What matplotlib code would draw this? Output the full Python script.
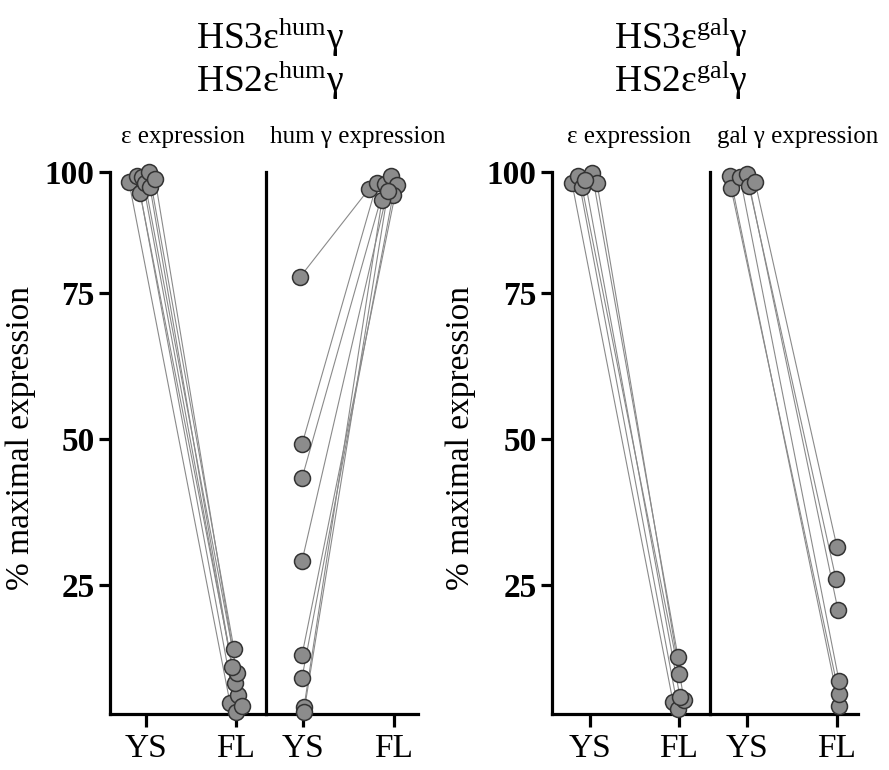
import numpy as np
import matplotlib
matplotlib.use("Agg")
import matplotlib.pyplot as plt

plt.rcParams['font.family'] = ['Liberation Serif', 'DejaVu Serif']
plt.rcParams['mathtext.fontset'] = 'custom'
plt.rcParams['mathtext.rm'] = 'Liberation Serif'
plt.rcParams['mathtext.it'] = 'Liberation Serif:italic'

# 1. Datos
categorias = ["YS", "FL"]
ticks_y = [25, 50, 75, 100]

# HS3/HS2 eps-hum-gamma: expresion de epsilon
eps_hum_ys = [97.9, 99.2, 95.7, 99.0, 97.7, 100.0, 96.9, 98.6]
eps_hum_fl = [4.8, 3.3, 6.2, 8.2, 9.9, 14.0, 11.0, 4.3]
eps_hum_dx_ys = [-17, -9, -6, -4, -1, 3, 4, 9]
eps_hum_dx_fl = [-6, 0, 2, -1, 1, -2, -4, 6]

# HS3/HS2 eps-hum-gamma: expresion de gamma humano
gam_hum_ys = [78.3, 49.1, 43.3, 29.1, 13.0, 9.1, 4.1, 3.3]
gam_hum_fl = [96.5, 97.7, 97.5, 99.2, 97.3, 95.2, 94.2, 96.0]
gam_hum_dx_ys = [-3, -1, -1, -1, -1, -1, 1, 1]
gam_hum_dx_fl = [-25, -17, -9, -3, 3, -1, -12, -6]

# HS3/HS2 eps-gal-gamma: expresion de epsilon
eps_gal_ys = [97.7, 99.2, 96.9, 99.8, 97.7, 98.3]
eps_gal_fl = [5.0, 3.8, 9.8, 12.7, 5.3, 5.8]
eps_gal_dx_ys = [-18, -12, -8, 2, 7, -5]
eps_gal_dx_fl = [-6, -1, 0, -1, 5, 1]

# HS3/HS2 eps-gal-gamma: expresion de gamma galago
gam_gal_ys = [99.2, 96.7, 99.0, 99.6, 97.1, 98.0]
gam_gal_fl = [4.3, 6.3, 8.6, 20.7, 26.0, 31.5]
gam_gal_dx_ys = [-17, -16, -7, 0, 2, 8]
gam_gal_dx_fl = [2, 2, 2, 1, -1, 0]


# 2. Escala del eje y (el tramo 75-100 esta mas comprimido en el original)
def comprimir(v):
    v = np.asarray(v, dtype=float)
    return np.where(v <= 75, v, 75 + (v - 75) * 0.83)


def expandir(u):
    u = np.asarray(u, dtype=float)
    return np.where(u <= 75, u, 75 + (u - 75) / 0.83)


fig = plt.figure(figsize=(8.89, 7.70), dpi=100)
W, H = 889.0, 770.0
y_abajo, y_arriba = 714, 172


def rect(x0, x1):
    return [x0 / W, (H - y_abajo) / H, (x1 - x0) / W, (y_abajo - y_arriba) / H]


# (rect, YS, FL, desplazamientos, px izq., px por unidad, subtitulo, x subtitulo, x etiqueta y)
paneles = [
    (rect(110, 266), eps_hum_ys, eps_hum_fl, eps_hum_dx_ys, eps_hum_dx_fl, 36, 90, "ε expression", 0.47, 36),
    (rect(266, 418), gam_hum_ys, gam_hum_fl, gam_hum_dx_ys, gam_hum_dx_fl, 37, 91, "hum γ expression", 0.605, None),
    (rect(552, 710), eps_gal_ys, eps_gal_fl, eps_gal_dx_ys, eps_gal_dx_fl, 38, 89, "ε expression", 0.49, 476),
    (rect(710, 858), gam_gal_ys, gam_gal_fl, gam_gal_dx_ys, gam_gal_dx_fl, 37, 90, "gal γ expression", 0.595, None),
]

for r, ys, fl, dxa, dxb, izq, paso, subtitulo, sx, xlab in paneles:
    ax = fig.add_axes(r)
    ax.set_yscale('function', functions=(comprimir, expandir))
    ancho = r[2] * W
    ax.set_xlim(-izq / paso, (ancho - izq) / paso)
    ax.set_ylim(2.9, 100)

    for a, b, da, db in zip(ys, fl, dxa, dxb):
        xa = 0 + da / paso
        xb = 1 + db / paso
        ax.plot([xa, xb], [a, b], color='#8a8a8a', lw=0.8, zorder=1)
    for a, b, da, db in zip(ys, fl, dxa, dxb):
        ax.plot([0 + da / paso, 1 + db / paso], [a, b], ls='none', marker='o',
                ms=11.5, mfc='#8c8c8c', mec='#333333', mew=1.1,
                clip_on=False, zorder=3)

    ax.spines['top'].set_visible(False)
    ax.spines['right'].set_visible(False)
    ax.spines['left'].set_linewidth(2.3)
    ax.spines['bottom'].set_linewidth(2.3)

    ax.set_xticks([0, 1])
    ax.set_xticklabels(categorias)
    ax.tick_params(axis='x', direction='out', length=9, width=2.3, labelsize=24, pad=5)

    ax.set_yticks(ticks_y)
    ax.yaxis.set_minor_locator(plt.NullLocator())
    if xlab is not None:
        ax.set_yticklabels([str(t) for t in ticks_y], fontweight='bold')
        ax.tick_params(axis='y', direction='out', length=8, width=2.3, labelsize=24, pad=3)
        ax.set_ylabel("% maximal expression", fontsize=24)
        ax.yaxis.set_label_coords((xlab - r[0] * W) / ancho, 0.51)
    else:
        ax.tick_params(axis='y', left=False, labelleft=False)

    ax.text(sx, 1.065, subtitulo, transform=ax.transAxes, ha='center',
            va='center', fontsize=18)

# 3. Titulos
fig.text(270 / W, 1 - 37 / H, r"HS3ε$^{\mathrm{hum}}$γ", ha='center', va='center', fontsize=27)
fig.text(270 / W, 1 - 80 / H, r"HS2ε$^{\mathrm{hum}}$γ", ha='center', va='center', fontsize=27)
fig.text(681 / W, 1 - 37 / H, r"HS3ε$^{\mathrm{gal}}$γ", ha='center', va='center', fontsize=27)
fig.text(681 / W, 1 - 80 / H, r"HS2ε$^{\mathrm{gal}}$γ", ha='center', va='center', fontsize=27)

fig.savefig("out.png", dpi=100)
